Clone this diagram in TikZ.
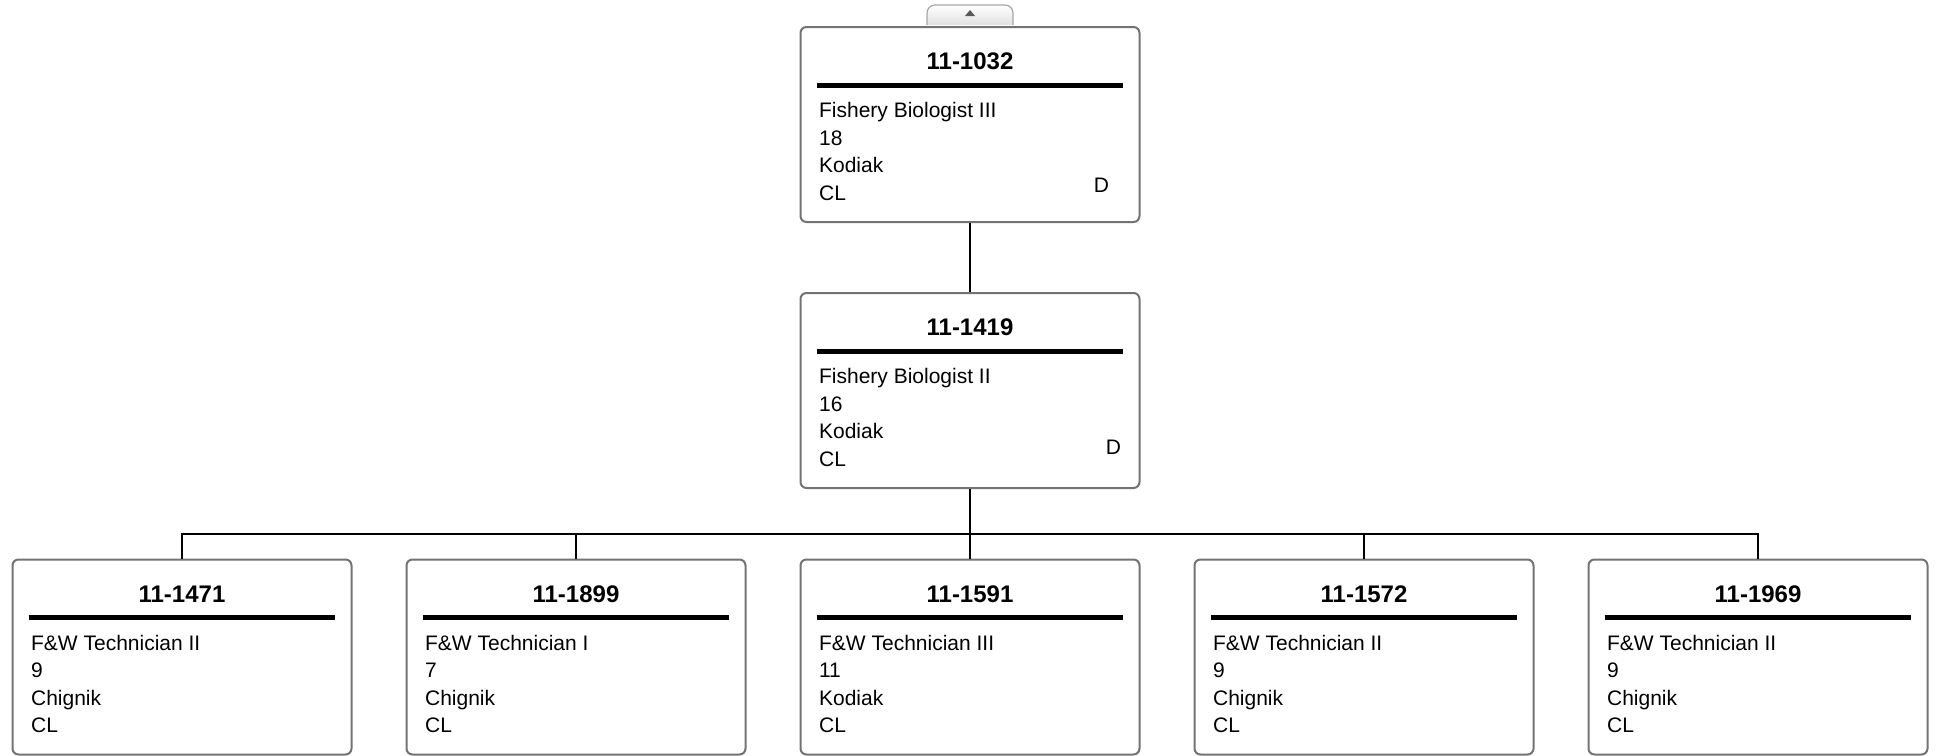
\documentclass[tikz,border=0pt]{standalone}
\usepackage{fontspec}
\setmainfont{Liberation Sans}
\usetikzlibrary{positioning,calc}

\tikzstyle{link} = [draw, line width=0.8pt]

% one position card: name, placement, number, title, grade, location, unit
\newcommand{\poscard}[7]{%
    \node[posbox, #2] (#1) {};
    \node[posid] (#1-id) at ($(#1.north)+(0,-35.5)$) {#3};
    \draw[posrule] ($(#1.north west)+(17,-59)$) -- ($(#1.north east)+(-18,-59)$);
    \node[postext] (#1-title) at ($(#1.north west)+(19,-91.5)$) {#4};
    \node[postext] (#1-grade) at ($(#1.north west)+(19,-119)$) {#5};
    \node[postext] (#1-loc) at ($(#1.north west)+(19,-146.5)$) {#6};
    \node[postext] (#1-unit) at ($(#1.north west)+(19,-174)$) {#7};
}

\begin{document}
\begin{tikzpicture}[
            x = 0.5pt, y = 0.5pt, % one unit per pixel
            node distance = 197pt, % distance between sibling cards
            semithick
        ]

        \tikzstyle{posbox}=[
            draw = black!55,
            line width = 1pt,
            fill = white,
            rounded corners = 3pt,
            inner sep = 0pt,
            minimum width = 169.5pt,
            minimum height = 97.5pt
        ]
        \tikzstyle{posid}=[inner sep=0pt, font=\fontsize{12}{14}\selectfont\bfseries]
        \tikzstyle{posrule}=[draw=black, line width=2.5pt]
        \tikzstyle{postext}=[inner sep=0pt, anchor=base west, font=\fontsize{10.5}{13}\selectfont]
        \tikzstyle{posflag}=[inner sep=0pt, anchor=base, font=\fontsize{10.5}{13}\selectfont]

        \useasboundingbox (0,0) rectangle (1937,-755);

        \poscard{p1032}{at={(970,-124.5)}}{11-1032}{Fishery Biologist III}{18}{Kodiak}{CL}
        \poscard{p1419}{node distance=133pt, below of=p1032}{11-1419}{Fishery Biologist II}{16}{Kodiak}{CL}
        \poscard{p1591}{node distance=133.25pt, below of=p1419}{11-1591}{F\&W Technician III}{11}{Kodiak}{CL}
        \poscard{p1899}{left of=p1591}{11-1899}{F\&W Technician I}{7}{Chignik}{CL}
        \poscard{p1471}{left of=p1899}{11-1471}{F\&W Technician II}{9}{Chignik}{CL}
        \poscard{p1572}{right of=p1591}{11-1572}{F\&W Technician II}{9}{Chignik}{CL}
        \poscard{p1969}{right of=p1572}{11-1969}{F\&W Technician II}{9}{Chignik}{CL}

        \node[posflag] (p1032-d) at ($(p1032.north west)+(302,-166)$) {D};
        \node[posflag] (p1419-d) at ($(p1419.north west)+(314,-162)$) {D};

        % collapse tab on top card
        \draw[draw=black!35, top color=white, bottom color=black!12, rounded corners=4pt]
            ($(p1032.north)+(-43,1)$) -- ++(0,20) -- ++(86,0) -- ++(0,-20);
        \fill[black!65] ($(p1032.north)+(-5,10)$) -- ++(10,0) -- ++(-5,6) -- cycle;

        \coordinate (bus) at ($(p1419.south)+(0,-45)$);

        \draw[link] (p1032) -- (p1419);
        \draw[link] (p1419.south) -- (bus);
        \draw[link] (bus) -| (p1471.north);
        \draw[link] (bus) -| (p1899.north);
        \draw[link] (bus) -- (p1591.north);
        \draw[link] (bus) -| (p1572.north);
        \draw[link] (bus) -| (p1969.north);

    \end{tikzpicture}
\end{document}
